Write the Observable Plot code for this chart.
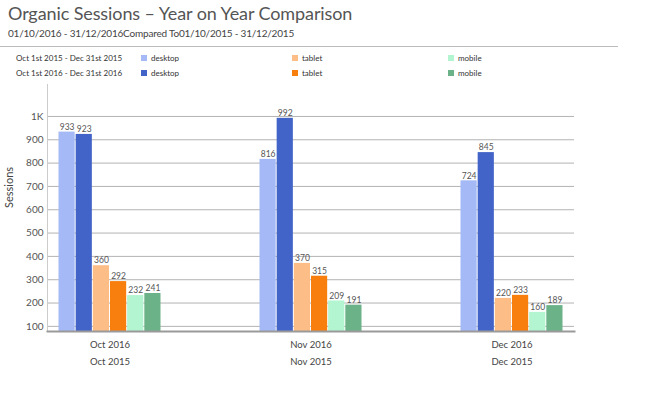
<!DOCTYPE html>
<html>
<head>
<meta charset="utf-8">
<script src="https://cdn.jsdelivr.net/npm/d3@7"></script>
<script src="https://cdn.jsdelivr.net/npm/@observablehq/plot@0.6"></script>
<style>
  body { margin: 0; background: #fff; font-family: Lato, "Open Sans", sans-serif; }
  #wrap { position: relative; width: 663px; height: 394px; overflow: hidden; }
  #head { position: relative; height: 80px; }
  .title { position: absolute; left: 8px; top: 2px; font-size: 18px; color: #555; white-space: nowrap; letter-spacing: -0.1px; }
  .sub { position: absolute; left: 8px; top: 27px; font-size: 10px; color: #444; white-space: nowrap; letter-spacing: -0.2px; }
  .hr { position: absolute; left: 0; top: 46px; width: 618px; height: 1px; background: #bbb; }
  .lg { position: absolute; font-size: 8px; color: #333; white-space: nowrap; line-height: 10px; }
  .sw { display: inline-block; width: 6px; height: 6px; margin-right: 4px; vertical-align: 0px; }
</style>
</head>
<body>
<div id="wrap">
  <div id="head"></div>
  <div id="chart"></div>
</div>
<script>
const title = "Organic Sessions \u2013 Year on Year Comparison";
const subtitle = "01/10/2016 - 31/12/2016Compared To01/10/2015 - 31/12/2015";
const periods = ["Oct 1st 2015 - Dec 31st 2015", "Oct 1st 2016 - Dec 31st 2016"];
const devices = ["desktop", "tablet", "mobile"];

const months = ["Oct 2016", "Nov 2016", "Dec 2016"];
const prevMonths = ["Oct 2015", "Nov 2015", "Dec 2015"];

const desktop2015 = [933, 816, 724];
const desktop2016 = [923, 992, 845];
const tablet2015 = [360, 370, 220];
const tablet2016 = [292, 315, 233];
const mobile2015 = [232, 209, 160];
const mobile2016 = [241, 191, 189];

const yTicks = [100, 200, 300, 400, 500, 600, 700, 800, 900, 1000];

const seriesList = [
  {name: "desktop 2015", values: desktop2015, color: "#a4b9f5"},
  {name: "desktop 2016", values: desktop2016, color: "#4263c8"},
  {name: "tablet 2015", values: tablet2015, color: "#fdbd86"},
  {name: "tablet 2016", values: tablet2016, color: "#f87e0e"},
  {name: "mobile 2015", values: mobile2015, color: "#b2f5d0"},
  {name: "mobile 2016", values: mobile2016, color: "#6bb288"}
];

// header
const head = document.getElementById("head");
head.innerHTML = `
  <div class="title">${title}</div>
  <div class="sub">${subtitle}</div>
  <div class="hr"></div>
`;
const legendX = [141, 292, 448];
periods.forEach((p, r) => {
  const top = 53 + r * 15;
  head.insertAdjacentHTML("beforeend", `<div class="lg" style="left:16px;top:${top}px">${p}</div>`);
  devices.forEach((d, i) => {
    const s = seriesList[i * 2 + r];
    head.insertAdjacentHTML("beforeend",
      `<div class="lg" style="left:${legendX[i]}px;top:${top}px"><span class="sw" style="background:${s.color}"></span>${d}</div>`);
  });
});

// chart
const W = 663, H = 314;
const mL = 47, mR = 89, mT = 4, mB = 63;
const pInner = 0.489, pOuter = 0.052;
const step = (W - mL - mR) / (months.length - pInner + 2 * pOuter);
const bw = step * (1 - pInner);
const slot = bw / seriesList.length;

const marks = [
  Plot.ruleY(yTicks, {stroke: "#b3b3b3", strokeWidth: 1}),
  Plot.axisY({ticks: yTicks, tickSize: 0, tickPadding: 4, fontSize: 10, fill: "#555",
    tickFormat: d => d === 1000 ? "1K" : String(d), label: null}),
  Plot.text(["Sessions"], {frameAnchor: "left", rotate: -90, dx: -38, fontSize: 11, fill: "#444"})
];

seriesList.forEach((s, k) => {
  const data = months.map((m, i) => ({month: m, value: s.values[i]}));
  marks.push(Plot.barY(data, {
    x: "month", y: "value", fill: s.color, clip: true,
    insetLeft: k * slot + 0.5, insetRight: (seriesList.length - 1 - k) * slot + 0.5
  }));
  marks.push(Plot.text(data, {
    x: "month", y: "value", text: d => String(d.value),
    dx: (k + 0.5) * slot - bw / 2, dy: -5, fontSize: 8.5, fill: "#555"
  }));
});

marks.push(
  Plot.frame({anchor: "left", stroke: "#ccc"}),
  Plot.frame({anchor: "bottom", stroke: "#9a9a9a", strokeWidth: 2}),
  Plot.axisX({tickSize: 0, tickPadding: 10, fontSize: 9.5, fill: "#444", label: null}),
  Plot.axisX({tickSize: 0, tickPadding: 27, fontSize: 9.5, fill: "#444", label: null,
    tickFormat: d => prevMonths[months.indexOf(d)]})
);

const chart = Plot.plot({
  width: W, height: H,
  marginLeft: mL, marginRight: mR, marginTop: mT, marginBottom: mB,
  style: {fontFamily: "Lato, 'Open Sans', sans-serif", background: "#fff"},
  x: {type: "band", domain: months, paddingInner: pInner, paddingOuter: pOuter, axis: null},
  y: {domain: [78, 1137], axis: null},
  marks
});
document.getElementById("chart").appendChild(chart);
</script>
</body>
</html>
